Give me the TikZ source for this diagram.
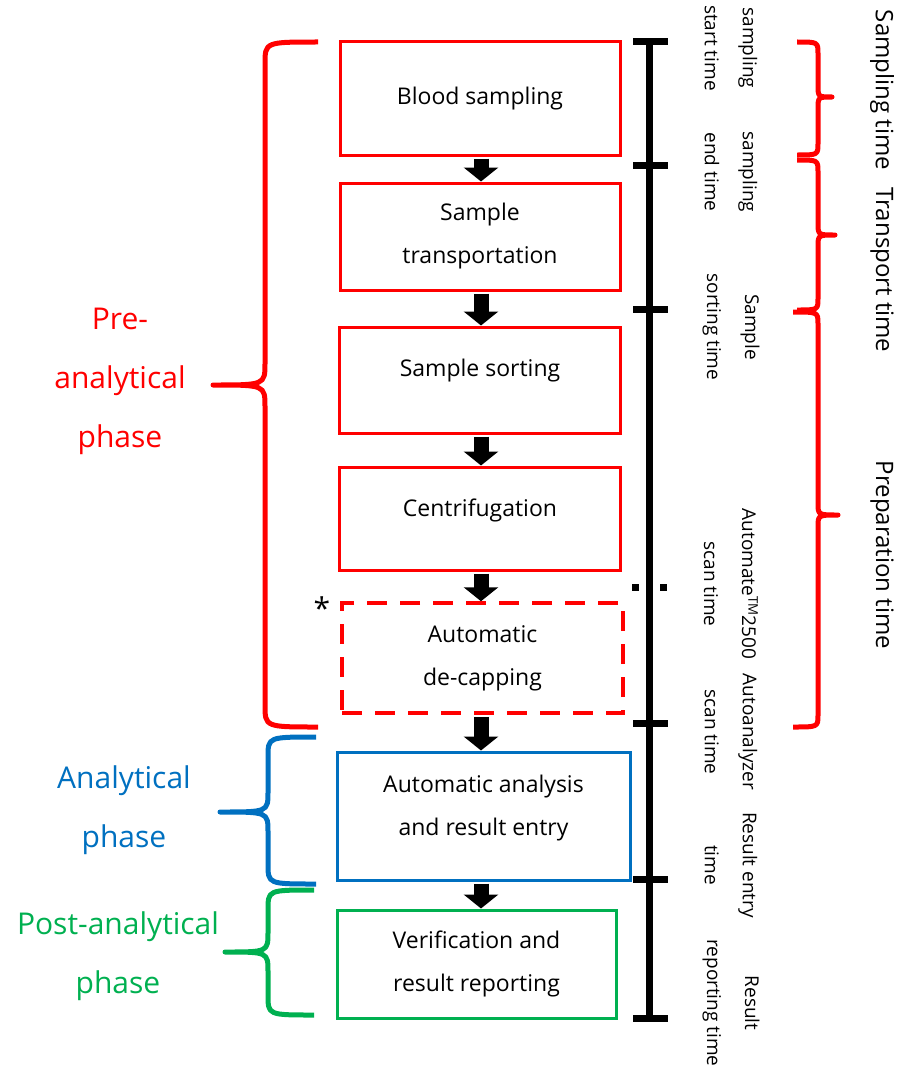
\documentclass[tikz,border=0pt]{standalone}
\usepackage{fontspec}
\setmainfont{Open Sans}
\usetikzlibrary{arrows.meta}
\definecolor{prered}{RGB}{255,0,0}
\definecolor{anablue}{RGB}{0,112,192}
\definecolor{postgreen}{RGB}{0,176,80}
% accolade : couleur, x bout, x dos, x pointe, y haut, y milieu, y bas, rayon
\newcommand{\accol}[8]{%
  \draw[accolade,#1] ({#2},{#5}) .. controls ({#3},{#5}) .. ({#3},{#5+#8}) -- ({#3},{#6-#8})
    .. controls ({#3},{#6}) .. ({#4},{#6}) .. controls ({#3},{#6}) .. ({#3},{#6+#8})
    -- ({#3},{#7-#8}) .. controls ({#3},{#7}) .. ({#2},{#7});}

\begin{document}
\begin{tikzpicture}[x=1pt,y=-1pt]
\tikzset{
  etape/.style={draw=prered, line width=3pt, inner sep=0pt, minimum width=280pt,
    align=center, font=\fontsize{23}{43}\selectfont},
  fleche/.style={line width=15pt, shorten <=2pt, -{Triangle[width=34pt,length=14pt]}},
  accolade/.style={line width=5pt, line join=round},
  tick/.style={line width=7pt},
  temps/.style={rotate=-90, align=center, font=\fontsize{19}{38}\selectfont},
  duree/.style={rotate=-90, font=\fontsize{24}{28}\selectfont},
  phase/.style={align=center, font=\fontsize{30}{59}\selectfont}
}
\useasboundingbox (0,0) rectangle (898,1065);

 % les étapes
  \node[etape, minimum height=113pt] (prel) at (480,98.5) {Blood sampling};
  \node[etape, minimum height=107pt] (transp) at (480,236.5) {Sample\\transportation};
  \node[etape, minimum width=281pt, minimum height=106pt, text depth=25pt] (tri) at (480,380) {Sample sorting};
  \node[etape, minimum width=281pt, minimum height=103pt, text depth=21pt] (centri) at (480,518.5) {Centrifugation};
  \node[etape, line width=3.5pt, dash pattern=on 20pt off 13pt, minimum width=281pt, minimum height=110pt] (decap) at (482.5,658) {Automatic\\de-capping};
  \node[etape, draw=anablue, minimum width=293pt, minimum height=128pt, text depth=21pt] (analyse) at (483.5,816) {Automatic analysis\\and result entry};
  \node[etape, draw=postgreen, minimum width=279pt, minimum height=108pt] (verif) at (476.5,964) {Verification and\\result reporting};
  \node[font=\fontsize{30}{30}\selectfont] (etoile) at (322,608) {*};

 % les flèches
  \coordinate (fx) at (481,0);
  \foreach \a/\b in {prel/transp, transp/tri, tri/centri, centri/decap, decap/analyse, analyse/verif}
    \draw[fleche] (\a.south -| fx) -- (\b.north -| fx);

% l'axe du temps
  \foreach \n/\y in {t1/42, t2/165, t3/309, t4/723, t5/879, t6/1018}
    \coordinate (\n) at (649,\y);
  \coordinate (auto) at (649,587);
  \draw[tick] (t1) -- (t6);
  \foreach \n in {t1,t2,t3,t4,t5,t6}
    \draw[tick] ([xshift=-16pt]\n) -- ([xshift=19pt]\n);
  \fill ([xshift=-14pt]auto) +(-3.5,-3.5) rectangle +(3.5,3.5);
  \fill (auto) +(-3.5,-3.5) rectangle +(3.5,3.5);
  \fill ([xshift=14pt]auto) +(-3.5,-3.5) rectangle +(3.5,3.5);

% du texte
  \node[temps] (debut) at (731,48) {sampling\\start time};
  \node[temps] (fin) at (731,172) {sampling\\end time};
  \node[temps] (sorting) at (731,327) {Sample\\sorting time};
  \node[temps] (scan) at (731,584) {Automate\textsuperscript{TM}2500\\scan time};
  \node[temps] (autoana) at (731,732) {Autoanalyzer\\scan time};
  \node[temps] (entree) at (731,865) {Result entry\\time};
  \node[temps] (rapport) at (731,1003) {Result\\reporting time};

  \node[duree] (dsamp) at (882,90) {Sampling time};
  \node[duree] (dtransp) at (882,270) {Transport time};
  \node[duree] (dprep) at (882,555) {Preparation time};

  \node[phase, text=prered] (pre) at (120,381) {Pre-\\analytical\\phase};
  \node[phase, text=anablue] (ana) at (124,810) {Analytical\\phase};
  \node[phase, text=postgreen] (post) at (118,956) {Post-analytical\\phase};

% les accolades
  \accol{prered}{318}{265}{213}{42}{385}{727}{22}
  \accol{anablue}{316}{268}{220}{737}{812}{884}{20}
  \accol{postgreen}{314}{268}{225}{890}{952}{1015}{20}
  \accol{prered}{797}{818}{832}{42}{97}{155}{12}
  \accol{prered}{797}{818}{835}{160}{235}{310}{12}
  \accol{prered}{793}{818}{838}{312}{515}{727}{12}
\end{tikzpicture}
\end{document}
